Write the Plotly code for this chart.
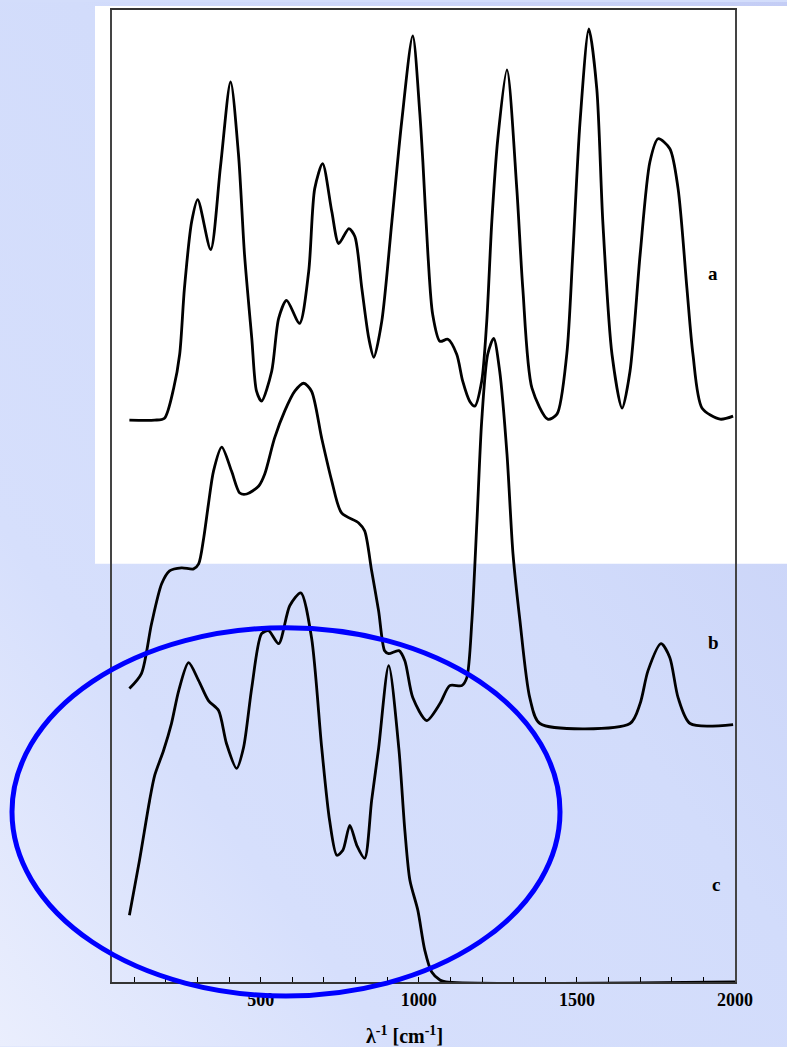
import base64
import plotly.graph_objects as go

# wavenumber (cm^-1) and intensity (a.u.)
a_x = [85, 165, 196, 225, 244, 259, 282, 301, 342, 373, 405, 430, 449, 472, 487, 503, 535, 557, 582, 623,
       652, 671, 696, 725, 747, 779, 798, 820, 842, 858, 883, 915, 946, 981, 1003, 1013, 1029, 1044, 1067,
       1092, 1120, 1139, 1161, 1177, 1199, 1215, 1231, 1250, 1279, 1310, 1329, 1358, 1408, 1437, 1468, 1487,
       1510, 1538, 1563, 1582, 1611, 1643, 1668, 1700, 1731, 1757, 1794, 1820, 1848, 1867, 1896, 1953, 1994]
a_y = [563, 563, 565, 595, 629, 695, 762, 784, 734, 817, 902, 829, 729, 645, 592, 582, 612, 665, 683, 660,
       712, 795, 820, 772, 740, 755, 747, 695, 645, 626, 662, 762, 862, 948, 872, 822, 729, 669, 642,
       644, 629, 602, 582, 577, 602, 662, 762, 845, 914, 795, 695, 595, 564, 569, 629, 729,
       862, 955, 895, 762, 629, 575, 612, 729, 822, 845, 835, 795, 695, 629, 575, 564, 567]

b_x = [85, 123, 155, 187, 212, 250, 288, 304, 320, 335, 351, 377, 408, 434, 456, 494, 513, 544, 576, 608,
       636, 661, 693, 725, 756, 810, 829, 851, 873, 892, 905, 937, 956, 981, 1025, 1067, 1098, 1136, 1152,
       1168, 1184, 1199, 1218, 1237, 1256, 1279, 1298, 1320, 1351, 1383, 1668, 1700, 1725, 1766, 1794,
       1820, 1858, 1994]
b_y = [294, 309, 359, 399, 412, 415, 414, 419, 445, 479, 512, 536, 512, 490, 489, 497, 509, 545, 572, 592,
       600, 592, 545, 502, 470, 460, 452, 412, 372, 332, 329, 332, 322, 285, 262, 279, 297, 297, 305,
       362, 462, 562, 629, 645, 612, 529, 429, 362, 285, 259, 259, 279, 312, 339, 325,
       285, 259, 258]

c_x = [85, 117, 149, 165, 193, 218, 241, 272, 304, 335, 367, 392, 424, 446, 472, 503, 525, 557, 592, 627,
       661, 693, 718, 741, 760, 782, 804, 829, 851, 873, 905, 937, 956, 972, 997, 1019, 1041, 1067, 1086, 2000]
c_y = [67, 122, 182, 207, 232, 259, 292, 320, 302, 282, 272, 239, 214, 235, 295, 349, 352, 339, 377, 390,
       345, 235, 162, 127, 132, 157, 137, 124, 182, 234, 317, 234, 152, 102, 72, 32, 10, 2, 0, 0]

labels = ["a", "b", "c"]
label_x = [1931, 1931, 1940]
label_y = [710, 340, 98]

tick_vals = [500, 1000, 1500, 2000]
tick_text = ["500", "1000", "1500", "2000"]

FONT = "Liberation Serif, Times New Roman, serif"

fig = go.Figure()
for xs, ys in [(a_x, a_y), (b_x, b_y), (c_x, c_y)]:
    fig.add_trace(go.Scatter(x=xs, y=ys, mode="lines",
                             line=dict(color="black", width=2.8, shape="spline", smoothing=0.75),
                             showlegend=False, hoverinfo="skip"))

for t, lx, ly in zip(labels, label_x, label_y):
    fig.add_annotation(x=lx, y=ly, text=t, showarrow=False,
                       font=dict(family=FONT, size=19, color="black", weight="bold"))

fig.add_annotation(xref="paper", yref="paper", x=0.470, y=-0.055,
                   text="λ<sup>-1</sup> [cm<sup>-1</sup>]", showarrow=False,
                   font=dict(family=FONT, size=20, color="black", weight="bold"), yanchor="middle")

# background gradient as an svg image
svg = ('<svg xmlns="http://www.w3.org/2000/svg" width="787" height="1047">'
       '<defs><linearGradient id="g" x1="1" y1="0" x2="0" y2="1">'
       '<stop offset="0" stop-color="#c4cdf5"/><stop offset="0.45" stop-color="#d2dcfb"/>'
       '<stop offset="0.75" stop-color="#d6dffc"/><stop offset="1" stop-color="#eaeefd"/>'
       '</linearGradient></defs><rect width="787" height="1047" fill="url(#g)"/></svg>')
src = "data:image/svg+xml;base64," + base64.b64encode(svg.encode()).decode()

W, H = 787, 1047
L, R, T, B = 112, 735, 8, 982
pw, ph = R - L, B - T

def px(xp):
    return (xp - L) / pw

def py(yp):
    return (B - yp) / ph

fig.add_layout_image(dict(source=src, xref="paper", yref="paper", x=px(0), y=py(0),
                          sizex=W / pw, sizey=H / ph, sizing="stretch", layer="below",
                          xanchor="left", yanchor="top"))

# white panel
fig.add_shape(type="rect", xref="paper", yref="paper", x0=px(95), x1=px(787), y0=py(563), y1=py(4),
              fillcolor="white", line=dict(width=0), layer="below")

# blue ellipse
fig.add_shape(type="circle", xref="paper", yref="paper", x0=px(12), x1=px(560), y0=py(996), y1=py(627),
              line=dict(color="#0000ff", width=5), layer="above")

fig.update_layout(
    width=W, height=H,
    margin=dict(l=L, r=W - R, t=T, b=H - B),
    paper_bgcolor="#d3ddfb", plot_bgcolor="rgba(0,0,0,0)",
    xaxis=dict(range=[30, 2000], tickvals=tick_vals, ticktext=tick_text, ticks="inside", ticklen=5,
               tickcolor="black", tickwidth=1,
               minor=dict(dtick=100, tick0=0, ticks="inside", ticklen=5, tickcolor="black"),
               showline=True, linecolor="#333333", linewidth=2, mirror=True, showgrid=False,
               zeroline=False, tickfont=dict(family=FONT, size=18, color="black", weight="bold")),
    yaxis=dict(range=[0, 974], showticklabels=False, ticks="", showline=True, linecolor="#444444",
               linewidth=2, mirror=True, showgrid=False, zeroline=False),
)

fig.write_html("out.html")
